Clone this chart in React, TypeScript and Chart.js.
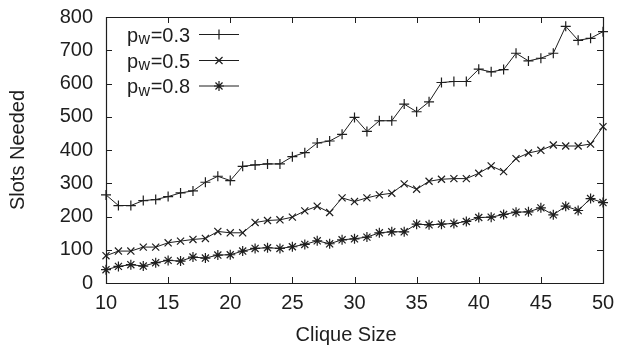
import React, { useEffect, useRef } from "react";
import { Chart, registerables } from "chart.js";

Chart.register(...registerables);

const cliqueSizes = [10, 11, 12, 13, 14, 15, 16, 17, 18, 19, 20, 21, 22, 23, 24, 25, 26, 27, 28, 29, 30, 31, 32, 33, 34, 35, 36, 37, 38, 39, 40, 41, 42, 43, 44, 45, 46, 47, 48, 49, 50];
const slotsPw03 = [265, 233, 233, 248, 251, 260, 271, 277, 303, 321, 308, 351, 355, 358, 358, 380, 392, 421, 427, 447, 498, 456, 488, 488, 538, 515, 545, 603, 606, 606, 643, 635, 642, 691, 668, 676, 691, 772, 730, 736, 756];
const slotsPw05 = [82, 96, 96, 108, 108, 121, 126, 131, 134, 155, 151, 151, 182, 188, 190, 198, 217, 231, 212, 256, 245, 256, 265, 270, 298, 282, 306, 312, 314, 314, 330, 352, 335, 374, 391, 399, 415, 412, 412, 418, 470];
const slotsPw08 = [40, 50, 55, 51, 61, 68, 66, 78, 75, 84, 85, 96, 104, 106, 104, 109, 116, 127, 118, 130, 133, 138, 151, 154, 154, 177, 175, 177, 179, 185, 197, 198, 206, 213, 214, 226, 205, 231, 218, 254, 242];

const seriesLabels = ["0.3", "0.5", "0.8"];
const xTicks = [10, 15, 20, 25, 30, 35, 40, 45, 50];
const yTicks = [0, 100, 200, 300, 400, 500, 600, 700, 800];

const INK = "#1e1e1e";
const FONT = "'Liberation Sans', Arial, Helvetica, sans-serif";

export default function App() {
  const canvasRef = useRef<HTMLCanvasElement | null>(null);

  useEffect(() => {
    const canvas = canvasRef.current;
    if (!canvas) return;

    const styles = ["cross", "crossRot", "star"];
    const radii = [5, 5, 5];
    const seriesData = [slotsPw03, slotsPw05, slotsPw08];

    function drawMarker(ctx: CanvasRenderingContext2D, style: string, x: number, y: number, r: number) {
      ctx.beginPath();
      if (style === "cross" || style === "star") {
        ctx.moveTo(x, y - r);
        ctx.lineTo(x, y + r);
        ctx.moveTo(x - r, y);
        ctx.lineTo(x + r, y);
      }
      if (style === "crossRot" || style === "star") {
        const rr = r * Math.SQRT1_2;
        ctx.moveTo(x - rr, y - rr);
        ctx.lineTo(x + rr, y + rr);
        ctx.moveTo(x + rr, y - rr);
        ctx.lineTo(x - rr, y + rr);
      }
      ctx.stroke();
    }

    const frameAndLegend = {
      id: "frameAndLegend",
      afterDatasetsDraw(chart: any) {
        const { ctx, chartArea, scales } = chart;
        const { left, right, top, bottom } = chartArea;
        ctx.save();
        ctx.strokeStyle = INK;
        ctx.lineWidth = 1.2;
        ctx.beginPath();
        ctx.rect(left + 0.5, top + 0.5, right - left, bottom - top);
        ctx.stroke();
        const tl = 6;
        ctx.lineWidth = 1;
        ctx.beginPath();
        xTicks.forEach((v) => {
          const px = Math.round(scales.x.getPixelForValue(v)) + 0.5;
          ctx.moveTo(px, bottom);
          ctx.lineTo(px, bottom - tl);
          ctx.moveTo(px, top);
          ctx.lineTo(px, top + tl);
        });
        yTicks.forEach((v) => {
          const py = Math.round(scales.y.getPixelForValue(v)) + 0.5;
          ctx.moveTo(left, py);
          ctx.lineTo(left + tl, py);
          ctx.moveTo(right, py);
          ctx.lineTo(right - tl, py);
        });
        ctx.stroke();

        // legend
        const rows = [34.5, 60.5, 86];
        const textX = 127;
        rows.forEach((ry, i) => {
          ctx.fillStyle = INK;
          ctx.textBaseline = "alphabetic";
          ctx.textAlign = "left";
          const base = ry + 7;
          let x = textX;
          ctx.font = `20px ${FONT}`;
          ctx.fillText("p", x, base);
          x += ctx.measureText("p").width + 0.5;
          ctx.font = `16px ${FONT}`;
          ctx.fillText("w", x, base + 2.5);
          x += ctx.measureText("w").width + 0.5;
          ctx.font = `20px ${FONT}`;
          ctx.fillText("=" + seriesLabels[i], x, base);

          ctx.strokeStyle = INK;
          ctx.lineWidth = 1;
          ctx.beginPath();
          ctx.moveTo(199, ry);
          ctx.lineTo(239, ry);
          ctx.stroke();
          ctx.lineWidth = 1.2;
          drawMarker(ctx, styles[i], 219, ry, radii[i]);
        });
        ctx.restore();
      },
    };

    const chart = new Chart(canvas, {
      type: "line",
      data: {
        datasets: seriesData.map((arr, i) => ({
          label: "p_w=" + seriesLabels[i],
          data: cliqueSizes.map((c, j) => ({ x: c, y: arr[j] })),
          borderColor: INK,
          backgroundColor: "transparent",
          borderWidth: 1,
          pointStyle: styles[i] as any,
          pointRadius: radii[i],
          pointBorderColor: INK,
          pointBorderWidth: 1.2,
          pointBackgroundColor: "transparent",
          tension: 0,
          fill: false,
          clip: false as any,
        })),
      },
      plugins: [frameAndLegend],
      options: {
        responsive: false,
        animation: false,
        layout: { padding: { top: 17, right: 18, left: 0, bottom: 0 } },
        plugins: {
          legend: { display: false },
          tooltip: { enabled: false },
        },
        scales: {
          x: {
            type: "linear",
            min: 10,
            max: 50,
            afterFit: (s: any) => {
              s.height = 65;
              s.paddingLeft = 0;
              s.paddingRight = 0;
            },
            afterBuildTicks: (s: any) => {
              s.ticks = xTicks.map((v) => ({ value: v }));
            },
            grid: { display: false, drawTicks: false },
            border: { display: false },
            ticks: {
              padding: 8,
              color: INK,
              font: { family: FONT, size: 20 },
              maxRotation: 0,
              autoSkip: false,
            },
            title: {
              display: true,
              text: "Clique Size   ",
              color: INK,
              font: { family: FONT, size: 20 },
              padding: { top: 0, bottom: 1 },
            },
          },
          y: {
            type: "linear",
            min: 0,
            max: 800,
            afterFit: (s: any) => {
              s.width = 106;
              s.paddingTop = 0;
              s.paddingBottom = 0;
            },
            afterBuildTicks: (s: any) => {
              s.ticks = yTicks.map((v) => ({ value: v }));
            },
            grid: { display: false, drawTicks: false },
            border: { display: false },
            ticks: {
              padding: 13,
              color: INK,
              font: { family: FONT, size: 20 },
              autoSkip: false,
            },
            title: {
              display: true,
              text: "Slots Needed",
              color: INK,
              font: { family: FONT, size: 20 },
              padding: { top: 6, bottom: 0 },
            },
          },
        },
      },
    });

    return () => chart.destroy();
  }, []);

  return (
    <div style={{ position: "fixed", left: 0, top: 0, width: 621, height: 348, background: "#fff" }}>
      <canvas ref={canvasRef} width={621} height={348} style={{ display: "block" }} />
    </div>
  );
}
